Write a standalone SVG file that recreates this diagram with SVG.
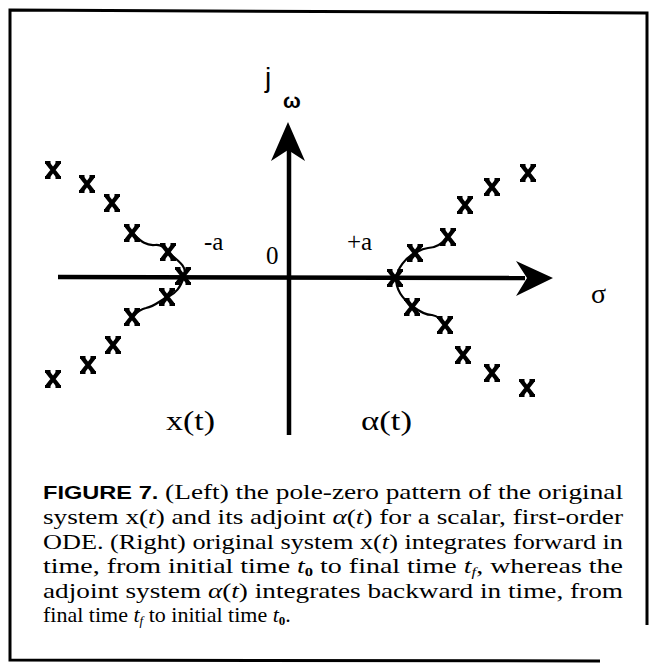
<svg xmlns="http://www.w3.org/2000/svg" xmlns:xlink="http://www.w3.org/1999/xlink" width="649" height="664" viewBox="0 0 649 664">
<style>
.ax{stroke:#000;stroke-width:4.5;fill:none}
.cv{stroke:#000;stroke-width:2.2;fill:none}
.lbl{font-family:"Liberation Serif","Times New Roman",serif;fill:#000}
.cap{font-family:"Liberation Serif","Times New Roman",serif;font-size:22px;fill:#000}
.fig{font-family:"Liberation Sans",Arial,sans-serif;font-weight:bold;font-size:19px}
.it{font-style:italic}
.frame{stroke:#000;stroke-width:3;fill:none}
</style>
<defs>
<g id="pole">
<path d="M-5.5,-7 L5.5,7 M5.5,-7 L-5.5,7" stroke="#000" stroke-width="4.4" fill="none"/>
<path d="M-8,-7.5 H-2.5 M2.5,-7.5 H8 M-8,7.5 H-2.5 M2.5,7.5 H8" stroke="#000" stroke-width="2.8" fill="none"/>
</g>
</defs>
<rect width="649" height="664" fill="#fff"/>
<g id="frame">
<path class="frame" d="M647,625 L647,13 L10,10 L10,660 L600,661"/>
</g>
<g id="connectors">
<line class="ax" x1="58" y1="277" x2="525" y2="278"/>
<polygon points="553,278 516,261 527,278 516,296" fill="#000"/>
<line class="ax" x1="289" y1="435" x2="289" y2="150"/>
<polygon points="288,122 271,161 288,150 305,161" fill="#000"/>
<path class="cv" d="M132,233 C140,240 145,246 155,245 C163,244 166,250 170,254 C180,262 188,268 184,277 C180,288 176,293 168,297 C160,300 156,306 146,308 C140,309 136,313 132,317"/>
<path class="cv" d="M448,237 C442,244 436,248 428,248 C420,249 418,252 415,253 C405,258 398,268 396,278 C396,290 402,298 412,306 C420,312 426,315 432,315 C438,316 442,320 445,325"/>
</g>
<g id="poles-left">
<use xlink:href="#pole" x="53" y="170"/>
<use xlink:href="#pole" x="87" y="184"/>
<use xlink:href="#pole" x="112" y="203"/>
<use xlink:href="#pole" x="132" y="233"/>
<use xlink:href="#pole" x="168" y="252"/>
<use xlink:href="#pole" x="183" y="276"/>
<use xlink:href="#pole" x="167" y="297"/>
<use xlink:href="#pole" x="132" y="317"/>
<use xlink:href="#pole" x="113" y="345"/>
<use xlink:href="#pole" x="88" y="365"/>
<use xlink:href="#pole" x="53" y="379"/>
</g>
<g id="poles-right">
<use xlink:href="#pole" x="528" y="173"/>
<use xlink:href="#pole" x="492" y="187"/>
<use xlink:href="#pole" x="465" y="205"/>
<use xlink:href="#pole" x="448" y="237"/>
<use xlink:href="#pole" x="415" y="253"/>
<use xlink:href="#pole" x="395" y="278"/>
<use xlink:href="#pole" x="412" y="307"/>
<use xlink:href="#pole" x="445" y="325"/>
<use xlink:href="#pole" x="463" y="355"/>
<use xlink:href="#pole" x="492" y="373"/>
<use xlink:href="#pole" x="527" y="388"/>
</g>
<g id="labels">
<text x="265" y="87" font-family="Liberation Sans,Arial,sans-serif" font-size="28" fill="#000">j</text>
<text x="283" y="108" font-family="Liberation Sans,Arial,sans-serif" font-size="21" font-weight="bold" fill="#000">ω</text>
<text class="lbl" x="591" y="303" font-size="28">σ</text>
<text class="lbl" x="204" y="250" font-size="25">-a</text>
<text class="lbl" x="266" y="264" font-size="25">0</text>
<text class="lbl" x="347" y="250" font-size="25">+a</text>
<text class="lbl" x="166" y="430" font-size="27" textLength="49" lengthAdjust="spacingAndGlyphs">x(t)</text>
<text class="lbl" x="361" y="430" font-size="27" textLength="51" lengthAdjust="spacingAndGlyphs">α(t)</text>
</g>
<g id="caption">
<text class="cap" x="43" y="499" textLength="580" lengthAdjust="spacingAndGlyphs"><tspan class="fig">FIGURE 7.</tspan> (Left) the pole-zero pattern of the original</text>
<text class="cap" x="43" y="524" textLength="580" lengthAdjust="spacingAndGlyphs">system x(<tspan class="it">t</tspan>) and its adjoint <tspan class="it">α</tspan>(<tspan class="it">t</tspan>) for a scalar, first-order</text>
<text class="cap" x="43" y="549" textLength="580" lengthAdjust="spacingAndGlyphs">ODE. (Right) original system x(<tspan class="it">t</tspan>) integrates forward in</text>
<text class="cap" x="43" y="573" textLength="580" lengthAdjust="spacingAndGlyphs">time, from initial time <tspan class="it">t</tspan><tspan font-size="13" font-weight="bold" dy="3">0</tspan><tspan dy="-3"> to final time </tspan><tspan class="it">t</tspan><tspan font-size="13" class="it" dy="3">f</tspan><tspan dy="-3">, whereas the</tspan></text>
<text class="cap" x="43" y="598" textLength="580" lengthAdjust="spacingAndGlyphs">adjoint system <tspan class="it">α</tspan>(<tspan class="it">t</tspan>) integrates backward in time, from</text>
<text class="cap" x="43" y="622">final time <tspan class="it">t</tspan><tspan font-size="13" class="it" dy="3">f</tspan><tspan dy="-3"> to initial time </tspan><tspan class="it">t</tspan><tspan font-size="13" font-weight="bold" dy="3">0</tspan><tspan dy="-3">.</tspan></text>
</g>
</svg>
